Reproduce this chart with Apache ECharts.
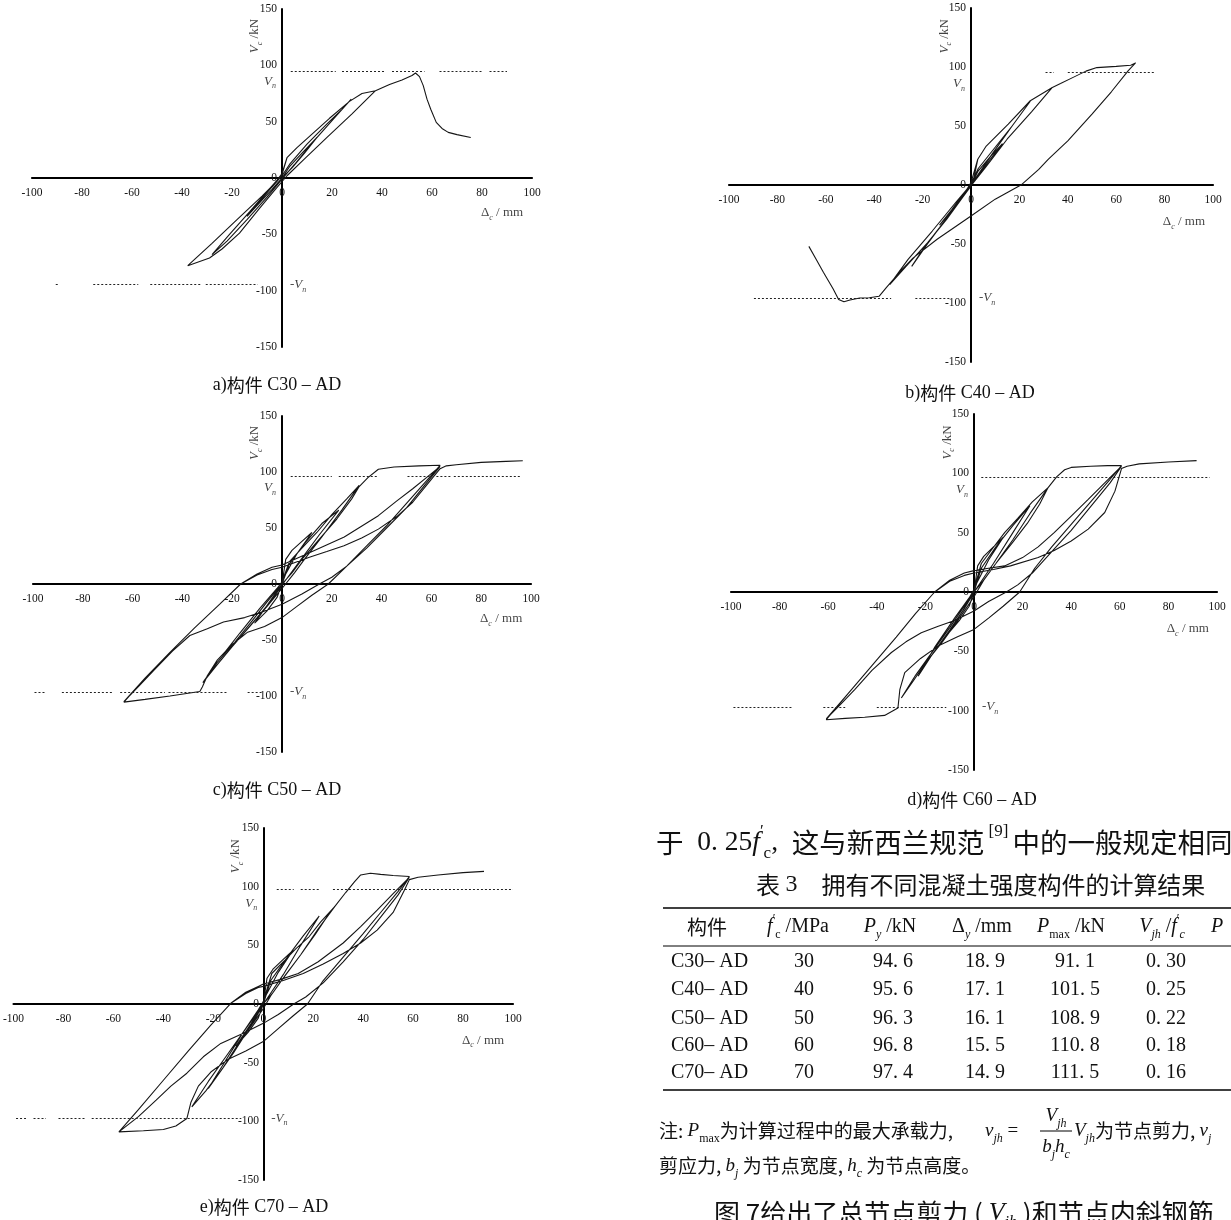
<!DOCTYPE html>
<html>
<head>
<meta charset="utf-8">
<script src="https://cdn.jsdelivr.net/npm/echarts@6/dist/echarts.min.js"></script>
<style>
html, body { margin: 0; padding: 0; background: #fff; }
#chart { width: 1231px; height: 1220px; }
</style>
</head>
<body>
<div id="chart"></div>
<script>
// 滞回曲线 (Δc mm, Vc kN)
const c30Curve = [
	[0,0],[3,10],[8,22],[14,36],[9,22],[4,9],[0,0],[-4,-10],[-9,-22],[-14,-34],[-9,-21],[-4,-8],[0,2],
	[3,12],[10,30],[18,48],[24,61],[27.7,70],[20,51],[12,31],[5,12],[0,-1],[-6,-17],[-14,-37],[-22,-56],[-28,-68],[-21,-50],[-13,-30],[-6,-12],[0,3],
	[2,18],[6,27],[11,37],[19,53],[27,68],[32,75],[37.4,77.5],[28,57],[18,36],[9,17],[2,2],[-3,-11],[-9,-27],[-17,-49],[-24,-63],[-29,-71],[-37.7,-77.8],[-28,-58],[-18,-37],[-8,-16],[-3,-5],[0,4],
	[2,18],[6,27],[11,37],[19,53],[27,68],[32,75],[37.4,77.5],[43,83],[48,87],[52,91],[53.4,93.2],[55,90],[56.5,82],[58,70],[59.5,61],[61.7,49.4],[64,44],[66.5,40.5],[70,38.5],[75.5,36]
];
const c40Curve = [
	[0,0],[3,12],[8,24],[13,35],[8,22],[3,8],[0,0],[-4,-12],[-9,-24],[-13,-34],[-8,-21],[-3,-7],[0,1],
	[3,14],[10,32],[17,50],[24.5,71],[17,50],[9,27],[2,6],[0,-1],[-6,-17],[-13,-36],[-19,-52],[-24.5,-69],[-18,-50],[-10,-28],[-3,-8],[0,2],
	[2.8,21.8],[6.3,33],[15.4,51.6],[24.5,71.4],[33.6,82.7],[25,62],[15,39],[6,15],[1,2],[-4,-12],[-10,-29],[-18,-49],[-26,-67],[-33.6,-84.4],[-26,-63],[-16,-39],[-6,-14],[-1,-2],[1,4],
	[2.8,21.8],[6.3,33],[15.4,51.6],[24.5,71.4],[33.6,82.7],[37,86],[42,91],[47.5,96.5],[52,99.5],[60,100.5],[66,101.5],[68,103.4],
	[65,97],[58,79],[50,60],[40,37.4],[32,22],[28,13.3],[21,0.5],[10,-12],[0,-26.3],[-14,-46],[-24,-62],[-30,-75],[-35,-87],[-38,-94.3],
	[-42,-95.5],[-46,-95.8],[-50,-97.5],[-52.5,-99],[-54.7,-97],[-57,-88],[-61,-74],[-64,-63],[-67,-52]
];
const c50Curve = [
	[0,0],[1.5,22],[4,30],[8,38],[12,46],[6,27],[1,7],[0,0],[-2,-12],[-6,-24],[-11,-35],[-5,-16],[0,0],
	[3,18],[9,36],[16,54],[22.8,66],[15,44],[7,20],[1,2],[-4,-14],[-10,-30],[-17,-48],[-24,-64],[-17,-44],[-9,-22],[-2,-4],[0,2],
	[3,20],[8,32],[14,46],[20,62],[26,76],[31,88],[24,66],[16,42],[9,22],[5,10],[0,-4],[-6,-20],[-13,-38],[-20,-56],[-26,-72],[-31.8,-88],[-26,-70],[-19,-52],[-12,-33],[-6,-16],[0,0],[4,10],
	[8,22],[15,40],[22,58],[28,76],[31,87],[34.5,95],[38.7,102.5],[45,104.5],[55,105.5],[63.5,106],
	[58,92],[50,72],[42,52],[34,34],[26,16],[18.6,0],[12,-10],[6,-20],[0,-30],[-7,-38],[-13.8,-43],[-20,-54],[-26,-68],[-30,-82],[-32,-92],[-33,-96],[-45,-100],[-55,-103],[-63.5,-105.5],
	[-55,-84],[-45,-61],[-35,-39],[-25,-18],[-16.6,0],[-10,9],[-4,15],[0,17],[11,28],[25,42],[38.7,61],[46,74],[52.5,85],[58,95],[63.5,105],
	[58,90],[50,68],[42,50],[34,32],[26,16],[20,6],[15,0],[8,-9],[0,-18],[-8,-25],[-15,-30],[-23.5,-34],[-30,-40],[-37,-46],[-44,-60],[-51,-76],[-57,-90],[-63.5,-105],
	[-55,-84],[-45,-61],[-35,-39],[-25,-18],[-16.6,0],[-10,8],[-4,13],[0,15],[11,23.8],[18,29],[24.9,34.2],[32,41],[38.7,49],[46,60],[52.5,73],[58,88],[63.5,103],
	[66,105.5],[70,106.5],[80,108.6],[90,109.5],[96.7,110]
];
const c60Curve = [
	[0,0],[1.5,22],[4,30],[8,38],[12,46],[6,27],[1,7],[0,0],[-2,-12],[-6,-24],[-11,-36],[-5,-17],[0,0],
	[3,20],[9,38],[16,56],[23,72.7],[16,50],[8,24],[1,3],[-4,-14],[-10,-32],[-17,-52],[-23,-71],[-16,-46],[-8,-22],[-2,-5],[0,2],
	[3,24],[7,35],[12.6,50],[18,62],[24,76],[30.5,88],[23,66],[16,44],[9,24],[4,10],[0,-4],[-6,-22],[-13,-42],[-20,-60],[-25,-75],[-29.9,-89.3],[-24,-70],[-17,-50],[-10,-30],[-5,-15],[0,0],[4,10],
	[9,24],[16,42],[22,58],[27,74],[30.5,88],[34,97],[37.3,103],[40,105],[48,106],[55,106.5],[60.7,106.5],
	[56,95],[48,76],[40,57],[32,38],[25,20],[18.8,0],[12,-12],[6,-22],[0,-31.5],[-7,-38],[-14.8,-45.6],[-22,-56],[-28.5,-68],[-30.5,-82],[-31.3,-97.7],[-36.8,-104],[-45,-105.5],[-53,-106.5],[-60.8,-107.6],
	[-52,-86],[-42,-62],[-32,-38],[-24,-18],[-16.2,0],[-10,10],[-4,16],[0,18],[6,20],[12.6,22],[20,29],[26.4,38],[33,50],[40,64],[47,78],[53.8,92],[60.7,106],
	[56,92],[48,72],[40,52],[32,34],[24,16],[18,6],[13.3,0],[6,-8],[0,-16],[-8,-24],[-15,-29],[-21.7,-34.4],[-28,-42],[-34,-51],[-42,-66],[-49,-82],[-55,-95],[-60.8,-107],
	[-52,-86],[-42,-62],[-32,-38],[-24,-18],[-16.2,0],[-10,9],[-4,14],[0,16],[8,19],[15,22],[26.4,29],[33,35],[40,43],[47,53],[53.8,67],[58,85],[60.7,104],
	[63,106],[68,108],[80,109.5],[91.6,110.7]
];
const c70Curve = [
	[0,0],[1.5,22],[4,30],[8,38],[12,46],[6,27],[1,7],[0,0],[-2,-12],[-6,-24],[-11,-36],[-5,-17],[0,0],
	[3,20],[9,38],[16,58],[22.4,75],[15,50],[8,25],[1,3],[-4,-15],[-10,-34],[-16,-54],[-22,-72],[-15,-48],[-8,-24],[-2,-5],[0,2],
	[3.4,26],[8.8,37.6],[13,47],[18.4,57.5],[23,70],[28.6,83],[22,64],[15,42],[8,22],[3,7],[0,-4],[-6,-22],[-12,-42],[-18,-60],[-23,-74],[-28.6,-87.6],[-22,-66],[-15,-45],[-9,-27],[-4,-12],[0,0],[4,10],
	[9,25],[15,42],[21,60],[26,76],[28.6,83],[33,95],[36.5,104],[39,110],[42.9,111.5],[47,110.5],[52,109.5],[58.5,108.7],
	[54,96],[47,78],[40,60],[32,40],[24,20],[17.7,0],[12,-10],[6,-21],[0,-32],[-7,-40],[-14,-47],[-21,-58],[-26,-70],[-29,-84],[-30.6,-97.6],[-35,-104],[-40,-107],[-48,-108],[-57.8,-109],
	[-50,-90],[-40,-65],[-30,-40],[-21,-18],[-13,0.6],[-7,10],[-2,15],[0,17],[7,21],[14,26],[22,36],[32,52],[39,66],[45.6,80],[52,94],[58.5,108],
	[54,93],[47,74],[40,55],[32,36],[24,18],[17,6],[12.2,0],[6,-9],[0,-16.5],[-8,-25],[-17,-33.6],[-24,-45],[-30.6,-59],[-37,-70],[-42.9,-82],[-50,-96],[-57.8,-109],
	[-50,-90],[-40,-65],[-30,-40],[-21,-18],[-13,0.6],[-7,9],[-2,14],[0,15],[8,20],[16,26],[24,34],[32,43],[39,52],[45.6,63],[52,78],[56.5,97],[58.5,106],
	[62,108],[70,110],[80,112],[88.4,113]
];

// ±Vn 虚线 (kN) 及其可见区段 (mm)
const vnLevels = [94.6, 95.6, 96.3, 96.8, 97.4];
const vnUpperSegs = [
	[[3.5,21.5],[24,41.6],[44,57],[63,80],[83,90]],
	[[30.8,34.3],[40,75.7]],
	[[3.5,20],[22.8,38.7],[50.4,59.4],[62,67.7],[69,96]],
	[[3,97]],
	[[5.4,12.2],[15,23],[27.9,100]]
];
const vnLowerSegs = [
	[[-90.5,-89.5],[-75.5,-57.5],[-52.7,-32],[-30.5,-22],[-21,-9.7]],
	[[-89.7,-33],[-23,-8.4]],
	[[-99.4,-95.3],[-88.4,-67.7],[-65,-47],[-45.6,-22],[-13.8,-8.3]],
	[[-99,-74.5],[-62,-53],[-40,-11.4]],
	[[-99,-95],[-92,-87],[-82,-71.4],[-68.7,-8.8]]
];

const captionTags = ['a', 'b', 'c', 'd', 'e'];
const specimens = ['C30', 'C40', 'C50', 'C60', 'C70'];

// 表 3
const tableMembers = ['C30– AD', 'C40– AD', 'C50– AD', 'C60– AD', 'C70– AD'];
const tableFc = [30, 40, 50, 60, 70];
const tablePy = [94.6, 95.6, 96.3, 96.8, 97.4];
const tableDy = [18.9, 17.1, 16.1, 15.5, 14.9];
const tablePmax = [91.1, 101.5, 108.9, 110.8, 111.5];
const tableVjh = [0.30, 0.25, 0.22, 0.18, 0.16];

const curves = [c30Curve, c40Curve, c50Curve, c60Curve, c70Curve];

// 各子图在页面中的位置
const panels = [
	{ left: 32, top: 9, width: 500, height: 338, cx: 277, cy: 385 },
	{ left: 729, top: 8, width: 484, height: 354, cx: 970, cy: 393 },
	{ left: 33, top: 416, width: 498, height: 336, cx: 277, cy: 790 },
	{ left: 731, top: 414, width: 486, height: 356, cx: 972, cy: 800 },
	{ left: 12, top: 828, width: 501, height: 352, cx: 264, cy: 1207 }
];

const SERIF = 'Liberation Serif';
const CJK = 'Noto Sans CJK SC';
const INK = '#111';

function richSet(size) {
	const lh = Math.round(size * 1.4);
	const sl = Math.round(size * 0.8);
	const s = Math.round(size * 0.62);
	return {
		t: { fontFamily: SERIF, fontSize: size, lineHeight: lh, color: INK, fill: INK },
		i: { fontFamily: SERIF, fontStyle: 'italic', fontSize: size, lineHeight: lh, color: INK, fill: INK },
		c: { fontFamily: CJK, fontSize: size, lineHeight: lh, color: INK, fill: INK },
		sub: { fontFamily: SERIF, fontSize: s, lineHeight: sl, verticalAlign: 'bottom', color: INK, fill: INK },
		subi: { fontFamily: SERIF, fontStyle: 'italic', fontSize: s, lineHeight: sl, verticalAlign: 'bottom', color: INK, fill: INK },
		sup: { fontFamily: SERIF, fontSize: s, lineHeight: sl, verticalAlign: 'top', color: INK, fill: INK }
	};
}

function text(x, y, str, size, align) {
	return {
		type: 'text', x: x, y: y, silent: true,
		style: {
			text: str, rich: richSet(size),
			align: align || 'left', textAlign: align || 'left',
			verticalAlign: 'middle', textVerticalAlign: 'middle',
			fontFamily: SERIF, fontSize: size, fill: INK
		}
	};
}

function rule(x1, x2, y, w) {
	return { type: 'line', silent: true, shape: { x1: x1, y1: y, x2: x2, y2: y }, style: { stroke: '#000', lineWidth: w } };
}

function fmt(v, d) {
	return v.toFixed(d).replace('.', '. ');
}

const grids = [], xAxes = [], yAxes = [], series = [];

panels.forEach((p, i) => {
	grids.push({ left: p.left, top: p.top, width: p.width, height: p.height });
	// 坐标轴移到零点: 用负 offset 把轴线和刻度标签一起移进绘图区
	xAxes.push({
		gridIndex: i, type: 'value', min: -100, max: 100, interval: 20,
		position: 'bottom', offset: -p.height / 2,
		axisLine: { onZero: false, lineStyle: { color: '#000', width: 2.2 } },
		axisTick: { show: false }, splitLine: { show: false },
		axisLabel: { fontFamily: SERIF, fontSize: 11.5, color: INK, margin: 9 }
	});
	yAxes.push({
		gridIndex: i, type: 'value', min: -150, max: 150, interval: 50,
		position: 'left', offset: -p.width / 2,
		axisLine: { onZero: false, lineStyle: { color: '#000', width: 2 } },
		axisTick: { show: false }, splitLine: { show: false },
		axisLabel: { fontFamily: SERIF, fontSize: 11.5, color: INK, margin: 5 }
	});

	const lv = vnLevels[i];
	const segs = vnUpperSegs[i].map(s => [{ coord: [s[0], lv] }, { coord: [s[1], lv] }])
		.concat(vnLowerSegs[i].map(s => [{ coord: [s[0], -lv] }, { coord: [s[1], -lv] }]));

	series.push({
		type: 'line', xAxisIndex: i, yAxisIndex: i,
		data: curves[i], showSymbol: false, symbol: 'none', smooth: false,
		lineStyle: { color: '#151515', width: 1.1 },
		silent: true,
		markLine: {
			silent: true, symbol: 'none', label: { show: false },
			lineStyle: { color: '#222', width: 1, type: [2, 2] },
			data: segs
		}
	});

	const rich = richSet(13);
	series.push({
		type: 'scatter', xAxisIndex: i, yAxisIndex: i, symbolSize: 0, silent: true,
		data: [
			{ value: [0, 86], label: { show: true, position: 'left', distance: 6, formatter: '{i|V}{subi|n}', rich: rich } },
			{ value: [0, -lv], label: { show: true, position: 'right', distance: 8, formatter: '{t|-}{i|V}{subi|n}', rich: rich } },
			{ value: [-11, 126], label: { show: true, position: 'inside', rotate: 90, formatter: '{i|V}{subi|c}{t| /kN}', rich: rich } },
			{ value: [88, -31], label: { show: true, position: 'inside', formatter: '{t|Δ}{subi|c}{t| / mm}', rich: rich } }
		]
	});
});

// 图题
const graphics = panels.map((p, i) =>
	text(p.cx, p.cy, '{t|' + captionTags[i] + ')}{c|构件}{t| ' + specimens[i] + ' – AD}', 18, 'center'));

// 正文与表格
graphics.push(text(656, 843, '{c|于}{t|  0. 25}{i|f}{sup|′}{sub|c}{t|,  }{c|这与新西兰规范}{sup| [9] }{c|中的一般规定相同}', 27.5));
graphics.push(text(756, 885, '{c|表 }{t|3    }{c|拥有不同混凝土强度构件的计算结果}', 24));
graphics.push(rule(663, 1231, 908, 1.6));
graphics.push(rule(663, 1231, 946, 1));
graphics.push(rule(663, 1231, 1090, 1.6));

const headX = [707, 798, 890, 982, 1071, 1162];
const heads = [
	'{c|构件}',
	'{i|f}{sup|′}{sub|c}{t| /MPa}',
	'{i|P}{subi|y}{t| /kN}',
	'{t|Δ}{subi|y}{t| /mm}',
	'{i|P}{sub|max}{t| /kN}',
	'{i|V}{subi|jh}{t| /}{i|f}{sup|′}{subi|c}'
];
heads.forEach((h, k) => graphics.push(text(headX[k], 927, h, 20, 'center')));
graphics.push(text(1211, 927, '{i|P}', 20));

const rowY = [962, 990, 1019, 1046, 1073];
const colX = [804, 893, 985, 1075, 1166];
tableMembers.forEach((m, r) => {
	graphics.push(text(671, rowY[r], '{t|' + m + '}', 20));
	const cells = [String(tableFc[r]), fmt(tablePy[r], 1), fmt(tableDy[r], 1), fmt(tablePmax[r], 1), fmt(tableVjh[r], 2)];
	cells.forEach((c, k) => graphics.push(text(colX[k], rowY[r], '{t|' + c + '}', 20, 'center')));
});

graphics.push(text(659, 1131, '{c|注: }{i|P}{sub|max}{c|为计算过程中的最大承载力, }', 19));
graphics.push(text(985, 1131, '{i|v}{subi|jh}{t| = }', 19));
graphics.push(text(1056, 1116, '{i|V}{subi|jh}', 19, 'center'));
graphics.push(rule(1040, 1072, 1131, 1));
graphics.push(text(1056, 1147, '{i|b}{subi|j}{i|h}{subi|c}', 19, 'center'));
graphics.push(text(1074, 1131, '{i|V}{subi|jh}{c|为节点剪力, }{i|v}{subi|j}', 19));
graphics.push(text(659, 1166, '{c|剪应力, }{i|b}{subi|j}{c| 为节点宽度, }{i|h}{subi|c}{c| 为节点高度。}', 19));
graphics.push(text(714, 1213, '{c|图 7给出了总节点剪力 ( }{i|V}{subi|jh}{c| )和节点内斜钢筋}', 26));

const myChart = echarts.init(document.getElementById('chart'));
myChart.setOption({
	backgroundColor: '#fff',
	animation: false,
	grid: grids,
	xAxis: xAxes,
	yAxis: yAxes,
	series: series,
	graphic: { elements: graphics }
});
</script>
</body>
</html>
